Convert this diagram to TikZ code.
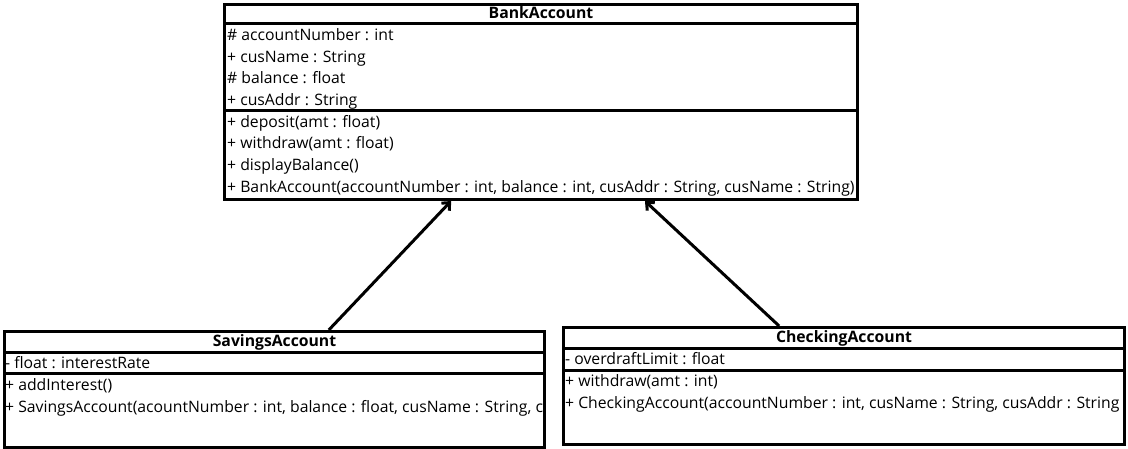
\documentclass[tikz,border=0pt]{standalone}
\usepackage{fontspec}
\setmainfont{Open Sans}
\usetikzlibrary{arrows.meta,calc}
\begin{document}
\begin{tikzpicture}[x=1pt,y=-1pt,
  umlbox/.style={draw,line width=3pt,rectangle,inner sep=0pt,fill=white},
  umlsep/.style={line width=3pt},
  umlrow/.style={anchor=west,inner sep=0pt,font=\fontsize{15.75}{18}\selectfont,text height=11pt,text depth=3.5pt},
  umltitle/.style={inner sep=0pt,font=\fontsize{15.75}{18}\selectfont\bfseries,text height=11pt,text depth=3.5pt},
  inherit/.style={line width=3pt,-{Straight Barb[length=6pt,width=11pt]}}]
\useasboundingbox (0,0) rectangle (1128,449);

% boxes
\node[umlbox,minimum width=633pt,minimum height=195pt,anchor=north west] (bank) at (223,3) {};
\node[umlbox,minimum width=540pt,minimum height=116pt,anchor=north west] (sav) at (3,330) {};
\node[umlbox,minimum width=561pt,minimum height=117pt,anchor=north west] (chk) at (562,326) {};

% BankAccount
\node[umltitle] (bankt) at ($(bank.north)+(0,12)$) {BankAccount};
\draw[umlsep] (bank.west |- 0,24) -- (bank.east |- 0,24);
\draw[umlsep] (bank.west |- 0,111) -- (bank.east |- 0,111);
\node[umlrow] (ba1) at (227,37) {\# accountNumber : int};
\node[umlrow] (ba2) at (227,59) {+ cusName : String};
\node[umlrow] (ba3) at (227,80) {\# balance : float};
\node[umlrow] (ba4) at (227,102) {+ cusAddr : String};
\node[umlrow] (bm1) at (227,124) {+ deposit(amt : float)};
\node[umlrow] (bm2) at (227,145) {+ withdraw(amt : float)};
\node[umlrow] (bm3) at (227,167) {+ displayBalance()};
\node[umlrow] (bm4) at (227,189) {+ BankAccount(accountNumber : int, balance : int, cusAddr : String, cusName : String)};

% SavingsAccount
\node[umltitle] (savt) at ($(sav.north)+(0,12.5)$) {SavingsAccount};
\draw[umlsep] (sav.west |- 0,352) -- (sav.east |- 0,352);
\draw[umlsep] (sav.west |- 0,373) -- (sav.east |- 0,373);
\begin{scope}
\clip ([xshift=1.5pt]sav.south west) rectangle ([xshift=-1.5pt]sav.north east);
\node[umlrow] (sa1) at (5,365) {- float : interestRate};
\node[umlrow] (sm1) at (5,387) {+ addInterest()};
\node[umlrow] (sm2) at (5,409) {+ SavingsAccount(acountNumber : int, balance : float, cusName : String, c};
\end{scope}

% CheckingAccount
\node[umltitle] (chkt) at ($(chk.north)+(0,12.5)$) {CheckingAccount};
\draw[umlsep] (chk.west |- 0,348) -- (chk.east |- 0,348);
\draw[umlsep] (chk.west |- 0,370) -- (chk.east |- 0,370);
\begin{scope}
\clip ([xshift=1.5pt]chk.south west) rectangle ([xshift=-1.5pt]chk.north east);
\node[umlrow] (ca1) at (565,361) {- overdraftLimit : float};
\node[umlrow] (cm1) at (565,383) {+ withdraw(amt : int)};
\node[umlrow] (cm2) at (565,405) {+ CheckingAccount(accountNumber : int, cusName : String, cusAddr : String};
\end{scope}

% inheritance
\coordinate (s1) at ($(sav.north west)!0.6!(sav.north east)$);
\coordinate (b1) at ($(bank.south west)!0.3586!(bank.south east)$);
\coordinate (c1) at ($(chk.north west)!0.385!(chk.north east)$);
\coordinate (b2) at ($(bank.south west)!0.6635!(bank.south east)$);
\draw[inherit] (s1) -- (b1);
\draw[inherit] (c1) -- (b2);
\end{tikzpicture}
\end{document}
